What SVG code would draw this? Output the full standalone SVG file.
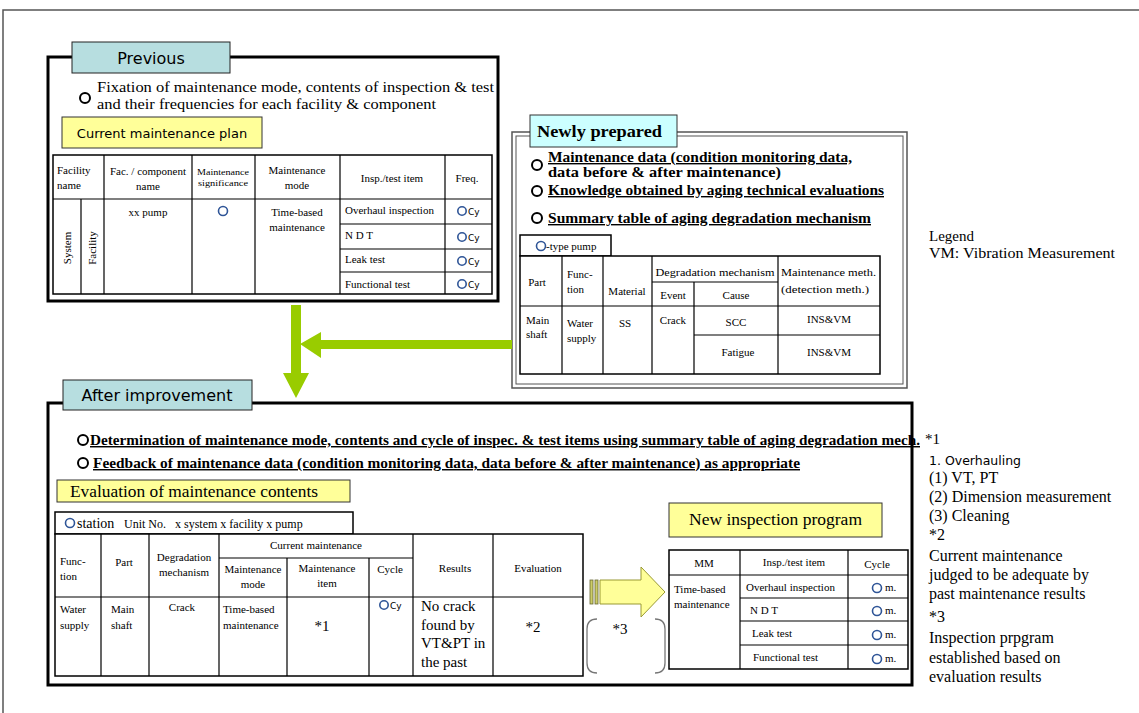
<svg xmlns="http://www.w3.org/2000/svg" width="1139" height="713" viewBox="0 0 1139 713">
<style>
.s{font-family:"Liberation Serif","Times New Roman",serif;fill:#000}
.ss{font-family:"DejaVu Sans","Liberation Sans",sans-serif;fill:#000}
.b{font-weight:bold}
.u{text-decoration:underline}
.c{text-anchor:middle}
.ln{stroke:#000;stroke-width:1.2;fill:none}
.tb{fill:#fff;stroke:#000;stroke-width:1.5}
.bul{fill:none;stroke:#000;stroke-width:2}
.oc{fill:none;stroke:#2f5597;stroke-width:1.6}
.ylw{fill:#FFFF99;stroke:#333;stroke-width:1}
.teal{fill:#B7DEE0;stroke:#222;stroke-width:1}
.grn{fill:#99CC00;stroke:none}
</style>
<rect width="1139" height="713" fill="#fff"/>
<path d="M3,713 V10 H1139" fill="none" stroke="#555" stroke-width="1.5"/>

<g id="previous">
<rect x="48" y="57" width="450" height="244" fill="#fff" stroke="#000" stroke-width="3"/>
<rect x="72" y="42" width="158" height="31" class="teal"/>
<text x="151" y="64" class="ss c" font-size="16">Previous</text>
<circle cx="85" cy="98" r="5" class="bul"/>
<text x="97" y="92" class="s" font-size="14" textLength="397" lengthAdjust="spacingAndGlyphs">Fixation of maintenance mode, contents of inspection &amp; test</text>
<text x="97" y="109" class="s" font-size="14" textLength="339" lengthAdjust="spacingAndGlyphs">and their frequencies for each facility &amp; component</text>
<rect x="62" y="117" width="200" height="31" class="ylw"/>
<text x="162" y="138" class="ss c" font-size="13">Current maintenance plan</text>
<rect x="53" y="155" width="439" height="139" class="tb"/>
<path class="ln" d="M104,155V294M192,155V294M255,155V294M340,155V294M445,155V294M81,199V294M53,199H492M340,224H492M340,249H492M340,272H492"/>
<g class="s" font-size="11">
<text x="57" y="174">Facility</text><text x="57" y="189">name</text>
<text x="148" y="175" class="c">Fac. / component</text><text x="148" y="190" class="c">name</text>
<text x="223" y="175" class="c" font-size="8" textLength="52" lengthAdjust="spacingAndGlyphs">Maintenance</text><text x="223" y="186" class="c" font-size="8" textLength="50" lengthAdjust="spacingAndGlyphs">significance</text>
<text x="297" y="174" class="c">Maintenance</text><text x="297" y="189" class="c">mode</text>
<text x="392" y="182" class="c">Insp./test item</text>
<text x="467" y="182" class="c">Freq.</text>
<text transform="translate(71,248) rotate(-90)" class="c">System</text>
<text transform="translate(96,248) rotate(-90)" class="c">Facility</text>
<text x="148" y="216" class="c">xx pump</text>
<text x="297" y="216" class="c">Time-based</text><text x="297" y="231" class="c">maintenance</text>
<text x="345" y="214">Overhaul inspection</text>
<text x="345" y="239">N D T</text>
<text x="345" y="263">Leak test</text>
<text x="345" y="288">Functional test</text>
</g>
<circle cx="223" cy="211" r="4.5" class="oc"/>
<g class="ss" font-size="9">
<circle cx="462" cy="211" r="4.2" class="oc"/><text x="468" y="215">Cy</text>
<circle cx="462" cy="237" r="4.2" class="oc"/><text x="468" y="241">Cy</text>
<circle cx="462" cy="261" r="4.2" class="oc"/><text x="468" y="265">Cy</text>
<circle cx="462" cy="284" r="4.2" class="oc"/><text x="468" y="288">Cy</text>
</g>
</g>

<g id="newly-prepared">
<rect x="512" y="132" width="395" height="256" fill="#fff" stroke="#555" stroke-width="1.5"/>
<rect x="516" y="136" width="387" height="248" fill="none" stroke="#555" stroke-width="1"/>
<rect x="530" y="115" width="147" height="32" fill="#CCFFFF" stroke="#333" stroke-width="1"/>
<text x="537" y="137" class="s b" font-size="17" textLength="125" lengthAdjust="spacingAndGlyphs">Newly prepared</text>
<circle cx="537" cy="165" r="5" class="bul"/>
<text x="548" y="162" class="s b u" font-size="14" textLength="304" lengthAdjust="spacingAndGlyphs">Maintenance data (condition monitoring data,</text>
<text x="548" y="177" class="s b" font-size="14" textLength="233" lengthAdjust="spacingAndGlyphs">data before &amp; after maintenance)</text>
<circle cx="537" cy="191" r="5" class="bul"/>
<text x="548" y="195" class="s b u" font-size="14" textLength="336" lengthAdjust="spacingAndGlyphs">Knowledge obtained by aging technical evaluations</text>
<circle cx="537" cy="218" r="5" class="bul"/>
<text x="548" y="223" class="s b u" font-size="14" textLength="323" lengthAdjust="spacingAndGlyphs">Summary table of aging degradation mechanism</text>
<rect x="520" y="235" width="91" height="21" class="tb" stroke-width="1.2"/>
<circle cx="541" cy="246" r="4.5" class="oc"/>
<text x="546" y="250" class="s" font-size="11">-type pump</text>
<rect x="520" y="256" width="360" height="118" class="tb"/>
<path class="ln" d="M562,256V374M603,256V374M652,256V374M694,282V374M778,256V374M652,282H778M520,306H880M694,335H880"/>
<g class="s" font-size="11">
<text x="537" y="286" class="c">Part</text>
<text x="567" y="278">Func-</text><text x="567" y="293">tion</text>
<text x="627" y="295" class="c">Material</text>
<text x="715" y="276" class="c" textLength="119" lengthAdjust="spacingAndGlyphs">Degradation mechanism</text>
<text x="673" y="299" class="c">Event</text>
<text x="736" y="299" class="c">Cause</text>
<text x="781" y="276" textLength="95" lengthAdjust="spacingAndGlyphs">Maintenance meth.</text>
<text x="781" y="293" textLength="88" lengthAdjust="spacingAndGlyphs">(detection meth.)</text>
<text x="526" y="324">Main</text><text x="526" y="338">shaft</text>
<text x="567" y="327">Water</text><text x="567" y="342">supply</text>
<text x="625" y="327" class="c">SS</text>
<text x="673" y="324" class="c">Crack</text>
<text x="736" y="326" class="c">SCC</text>
<text x="829" y="323" class="c">INS&amp;VM</text>
<text x="738" y="356" class="c">Fatigue</text>
<text x="829" y="356" class="c">INS&amp;VM</text>
</g>
</g>

<g id="legend" class="s" font-size="15">
<text x="929" y="241">Legend</text>
<text x="929" y="258" textLength="186" lengthAdjust="spacingAndGlyphs">VM: Vibration Measurement</text>
</g>

<g id="after-improvement">
<rect x="48" y="403" width="864" height="282" fill="#fff" stroke="#000" stroke-width="3"/>
<rect x="63" y="380" width="189" height="30" class="teal"/>
<text x="157" y="401" class="ss c" font-size="16">After improvement</text>
<circle cx="83" cy="440" r="5" class="bul"/>
<text x="90" y="445" class="s b u" font-size="14.5" textLength="830" lengthAdjust="spacingAndGlyphs">Determination of maintenance mode, contents and cycle of inspec. &amp; test items using summary table of aging degradation mech.</text>
<circle cx="83" cy="463" r="5" class="bul"/>
<text x="93" y="468" class="s b u" font-size="14.5" textLength="707" lengthAdjust="spacingAndGlyphs">Feedback of maintenance data (condition monitoring data, data before &amp; after maintenance) as appropriate</text>
</g>

<g id="evaluation">
<rect x="57" y="480" width="293" height="22" class="ylw"/>
<text x="70" y="497" class="s" font-size="16" textLength="248" lengthAdjust="spacingAndGlyphs">Evaluation of maintenance contents</text>
<rect x="55" y="512" width="298" height="22" class="tb" stroke-width="1.2"/>
<circle cx="70" cy="523" r="4.5" class="oc"/>
<text x="77" y="528" class="s" font-size="14">station</text>
<text x="124" y="528" class="s" font-size="12" xml:space="preserve">Unit No.   x system x facility x pump</text>
<rect x="55" y="534" width="528" height="142" class="tb"/>
<path class="ln" d="M101,534V676M149,534V676M219,534V676M413,534V676M493,534V676M287,558V676M369,558V676M219,558H413M55,597H583"/>
<g class="s" font-size="11">
<text x="60" y="565">Func-</text><text x="60" y="580">tion</text>
<text x="124" y="566" class="c">Part</text>
<text x="184" y="561" class="c">Degradation</text><text x="184" y="576" class="c">mechanism</text>
<text x="316" y="549" class="c">Current maintenance</text>
<text x="253" y="573" class="c">Maintenance</text><text x="253" y="588" class="c">mode</text>
<text x="327" y="572" class="c">Maintenance</text><text x="327" y="587" class="c">item</text>
<text x="390" y="573" class="c">Cycle</text>
<text x="455" y="572" class="c">Results</text>
<text x="538" y="572" class="c">Evaluation</text>
<text x="60" y="613">Water</text><text x="60" y="629">supply</text>
<text x="111" y="613">Main</text><text x="111" y="629">shaft</text>
<text x="182" y="611" class="c">Crack</text>
<text x="223" y="613">Time-based</text><text x="223" y="629">maintenance</text>
</g>
<text x="322" y="631" class="s c" font-size="15">*1</text>
<circle cx="384" cy="605" r="4.2" class="oc"/>
<text x="390" y="609" class="ss" font-size="9">Cy</text>
<g class="s" font-size="15">
<text x="421" y="611">No crack</text>
<text x="421" y="630">found by</text>
<text x="421" y="648">VT&amp;PT in</text>
<text x="421" y="667">the past</text>
<text x="533" y="632" class="c">*2</text>
</g>
</g>

<g id="new-program">
<rect x="669" y="503" width="213" height="34" class="ylw"/>
<text x="689" y="525" class="s" font-size="16" textLength="173" lengthAdjust="spacingAndGlyphs">New inspection program</text>
<rect x="669" y="550" width="239" height="119" class="tb"/>
<path class="ln" d="M740,550V669M848,550V669M669,575H908M740,598H908M740,621H908M740,645H908"/>
<g class="s" font-size="11">
<text x="704" y="567" class="c">MM</text>
<text x="794" y="566" class="c">Insp./test item</text>
<text x="877" y="568" class="c">Cycle</text>
<text x="674" y="593">Time-based</text><text x="674" y="608">maintenance</text>
<text x="746" y="591">Overhaul inspection</text>
<text x="750" y="614">N D T</text>
<text x="752" y="637">Leak test</text>
<text x="753" y="661">Functional test</text>
<circle cx="877" cy="588" r="4.5" class="oc"/><text x="885" y="591">m.</text>
<circle cx="877" cy="611" r="4.5" class="oc"/><text x="885" y="614">m.</text>
<circle cx="877" cy="635" r="4.5" class="oc"/><text x="885" y="638">m.</text>
<circle cx="877" cy="659" r="4.5" class="oc"/><text x="885" y="662">m.</text>
</g>
</g>

<g id="bracket-note3">
<path d="M597,619 Q587,619 587,629 V663 Q587,673 597,673 M655,619 Q665,619 665,629 V663 Q665,673 655,673" fill="none" stroke="#777" stroke-width="1.3"/>
<text x="620" y="634" class="s c" font-size="15">*3</text>
</g>

<g id="notes" class="s" font-size="16">
<text x="925" y="444" font-size="15">*1</text>
<text x="929" y="465" class="ss" font-size="12.5">1. Overhauling</text>
<text x="929" y="483">(1) VT, PT</text>
<text x="929" y="502">(2) Dimension measurement</text>
<text x="929" y="521">(3) Cleaning</text>
<text x="929" y="540">*2</text>
<text x="929" y="561">Current maintenance</text>
<text x="929" y="580">judged to be adequate by</text>
<text x="929" y="599">past maintenance results</text>
<text x="929" y="622">*3</text>
<text x="929" y="643">Inspection prpgram</text>
<text x="929" y="663">established based on</text>
<text x="929" y="682">evaluation results</text>
</g>

<g id="connectors">
<polygon class="grn" points="291,305 301,305 301,373 309,373 296,398 283,373 291,373"/>
<polygon class="grn" points="512,340 512,349 321,349 321,358 300,344 321,332 321,340"/>
<rect x="590" y="580" width="3" height="24" fill="#CCCC66" stroke="#666633" stroke-width="0.8"/>
<rect x="595" y="580" width="3" height="24" fill="#CCCC66" stroke="#666633" stroke-width="0.8"/>
<path d="M600,580 H641 V567 L665,592 L641,617 V604 H600 Z" fill="#FFFF99" stroke="#999933" stroke-width="1"/>
</g>
</svg>
